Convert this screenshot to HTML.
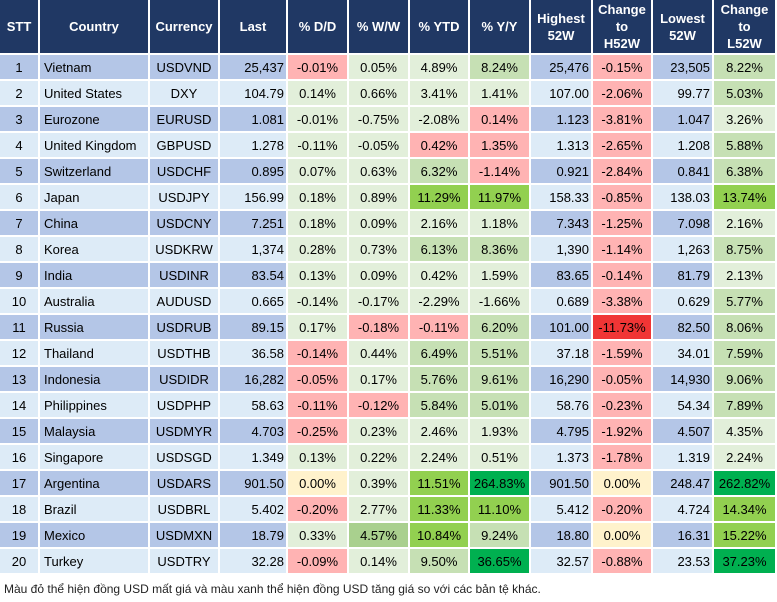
<!DOCTYPE html>
<html><head><meta charset="utf-8"><style>
body{margin:0;background:#fff;width:777px;height:602px;overflow:hidden;font-family:"Liberation Sans",Arial,sans-serif;}
.g{display:grid;grid-template-columns:38px 108px 68px 66px 59px 59px 58px 59px 60px 58px 59px 61px;grid-template-rows:53px repeat(20,24px);gap:2px;width:775px;background:#fff;}
.g div{font-size:13px;color:#000;display:flex;align-items:center;justify-content:center;white-space:nowrap;}
.g .h{background:#203864;color:#fff;font-weight:bold;text-align:center;line-height:17px;}
.o{background:#b4c6e7}.e{background:#ddebf7}
.l{justify-content:flex-start!important;padding-left:4px}
.r{justify-content:flex-end!important;padding-right:2px}
.G{background:#e2efda}.M{background:#c6e0b4}.B{background:#92d050}.D{background:#00b050}.P{background:#ffb3b3}.R{background:#f03535}.Y{background:#fff2cc}.A{background:#a9d08e}
.f{position:absolute;left:4px;top:582px;font-size:12px;color:#222;}
</style></head><body>
<div class="g">
<div class="h">STT</div><div class="h">Country</div><div class="h">Currency</div><div class="h">Last</div><div class="h">% D/D</div><div class="h">% W/W</div><div class="h">% YTD</div><div class="h">% Y/Y</div><div class="h">Highest<br>52W</div><div class="h">Change<br>to<br>H52W</div><div class="h">Lowest<br>52W</div><div class="h">Change<br>to<br>L52W</div>

<div class="o">1</div><div class="o l">Vietnam</div><div class="o">USDVND</div><div class="o r">25,437</div><div class="P">-0.01%</div><div class="G">0.05%</div><div class="G">4.89%</div><div class="M">8.24%</div><div class="o r">25,476</div><div class="P">-0.15%</div><div class="o r">23,505</div><div class="M">8.22%</div>
<div class="e">2</div><div class="e l">United States</div><div class="e">DXY</div><div class="e r">104.79</div><div class="G">0.14%</div><div class="G">0.66%</div><div class="G">3.41%</div><div class="G">1.41%</div><div class="e r">107.00</div><div class="P">-2.06%</div><div class="e r">99.77</div><div class="M">5.03%</div>
<div class="o">3</div><div class="o l">Eurozone</div><div class="o">EURUSD</div><div class="o r">1.081</div><div class="G">-0.01%</div><div class="G">-0.75%</div><div class="G">-2.08%</div><div class="P">0.14%</div><div class="o r">1.123</div><div class="P">-3.81%</div><div class="o r">1.047</div><div class="G">3.26%</div>
<div class="e">4</div><div class="e l">United Kingdom</div><div class="e">GBPUSD</div><div class="e r">1.278</div><div class="G">-0.11%</div><div class="G">-0.05%</div><div class="P">0.42%</div><div class="P">1.35%</div><div class="e r">1.313</div><div class="P">-2.65%</div><div class="e r">1.208</div><div class="M">5.88%</div>
<div class="o">5</div><div class="o l">Switzerland</div><div class="o">USDCHF</div><div class="o r">0.895</div><div class="G">0.07%</div><div class="G">0.63%</div><div class="M">6.32%</div><div class="P">-1.14%</div><div class="o r">0.921</div><div class="P">-2.84%</div><div class="o r">0.841</div><div class="M">6.38%</div>
<div class="e">6</div><div class="e l">Japan</div><div class="e">USDJPY</div><div class="e r">156.99</div><div class="G">0.18%</div><div class="G">0.89%</div><div class="B">11.29%</div><div class="B">11.97%</div><div class="e r">158.33</div><div class="P">-0.85%</div><div class="e r">138.03</div><div class="B">13.74%</div>
<div class="o">7</div><div class="o l">China</div><div class="o">USDCNY</div><div class="o r">7.251</div><div class="G">0.18%</div><div class="G">0.09%</div><div class="G">2.16%</div><div class="G">1.18%</div><div class="o r">7.343</div><div class="P">-1.25%</div><div class="o r">7.098</div><div class="G">2.16%</div>
<div class="e">8</div><div class="e l">Korea</div><div class="e">USDKRW</div><div class="e r">1,374</div><div class="G">0.28%</div><div class="G">0.73%</div><div class="M">6.13%</div><div class="M">8.36%</div><div class="e r">1,390</div><div class="P">-1.14%</div><div class="e r">1,263</div><div class="M">8.75%</div>
<div class="o">9</div><div class="o l">India</div><div class="o">USDINR</div><div class="o r">83.54</div><div class="G">0.13%</div><div class="G">0.09%</div><div class="G">0.42%</div><div class="G">1.59%</div><div class="o r">83.65</div><div class="P">-0.14%</div><div class="o r">81.79</div><div class="G">2.13%</div>
<div class="e">10</div><div class="e l">Australia</div><div class="e">AUDUSD</div><div class="e r">0.665</div><div class="G">-0.14%</div><div class="G">-0.17%</div><div class="G">-2.29%</div><div class="G">-1.66%</div><div class="e r">0.689</div><div class="P">-3.38%</div><div class="e r">0.629</div><div class="M">5.77%</div>
<div class="o">11</div><div class="o l">Russia</div><div class="o">USDRUB</div><div class="o r">89.15</div><div class="G">0.17%</div><div class="P">-0.18%</div><div class="P">-0.11%</div><div class="M">6.20%</div><div class="o r">101.00</div><div class="R">-11.73%</div><div class="o r">82.50</div><div class="M">8.06%</div>
<div class="e">12</div><div class="e l">Thailand</div><div class="e">USDTHB</div><div class="e r">36.58</div><div class="P">-0.14%</div><div class="G">0.44%</div><div class="M">6.49%</div><div class="M">5.51%</div><div class="e r">37.18</div><div class="P">-1.59%</div><div class="e r">34.01</div><div class="M">7.59%</div>
<div class="o">13</div><div class="o l">Indonesia</div><div class="o">USDIDR</div><div class="o r">16,282</div><div class="P">-0.05%</div><div class="G">0.17%</div><div class="M">5.76%</div><div class="M">9.61%</div><div class="o r">16,290</div><div class="P">-0.05%</div><div class="o r">14,930</div><div class="M">9.06%</div>
<div class="e">14</div><div class="e l">Philippines</div><div class="e">USDPHP</div><div class="e r">58.63</div><div class="P">-0.11%</div><div class="P">-0.12%</div><div class="M">5.84%</div><div class="M">5.01%</div><div class="e r">58.76</div><div class="P">-0.23%</div><div class="e r">54.34</div><div class="M">7.89%</div>
<div class="o">15</div><div class="o l">Malaysia</div><div class="o">USDMYR</div><div class="o r">4.703</div><div class="P">-0.25%</div><div class="G">0.23%</div><div class="G">2.46%</div><div class="G">1.93%</div><div class="o r">4.795</div><div class="P">-1.92%</div><div class="o r">4.507</div><div class="G">4.35%</div>
<div class="e">16</div><div class="e l">Singapore</div><div class="e">USDSGD</div><div class="e r">1.349</div><div class="G">0.13%</div><div class="G">0.22%</div><div class="G">2.24%</div><div class="G">0.51%</div><div class="e r">1.373</div><div class="P">-1.78%</div><div class="e r">1.319</div><div class="G">2.24%</div>
<div class="o">17</div><div class="o l">Argentina</div><div class="o">USDARS</div><div class="o r">901.50</div><div class="Y">0.00%</div><div class="G">0.39%</div><div class="B">11.51%</div><div class="D">264.83%</div><div class="o r">901.50</div><div class="Y">0.00%</div><div class="o r">248.47</div><div class="D">262.82%</div>
<div class="e">18</div><div class="e l">Brazil</div><div class="e">USDBRL</div><div class="e r">5.402</div><div class="P">-0.20%</div><div class="G">2.77%</div><div class="B">11.33%</div><div class="B">11.10%</div><div class="e r">5.412</div><div class="P">-0.20%</div><div class="e r">4.724</div><div class="B">14.34%</div>
<div class="o">19</div><div class="o l">Mexico</div><div class="o">USDMXN</div><div class="o r">18.79</div><div class="G">0.33%</div><div class="A">4.57%</div><div class="B">10.84%</div><div class="M">9.24%</div><div class="o r">18.80</div><div class="Y">0.00%</div><div class="o r">16.31</div><div class="B">15.22%</div>
<div class="e">20</div><div class="e l">Turkey</div><div class="e">USDTRY</div><div class="e r">32.28</div><div class="P">-0.09%</div><div class="G">0.14%</div><div class="M">9.50%</div><div class="D">36.65%</div><div class="e r">32.57</div><div class="P">-0.88%</div><div class="e r">23.53</div><div class="D">37.23%</div>
</div>
<div class="f">Màu đỏ thể hiện đồng USD mất giá và màu xanh thể hiện đồng USD tăng giá so với các bản tệ khác.</div>
</body></html>
